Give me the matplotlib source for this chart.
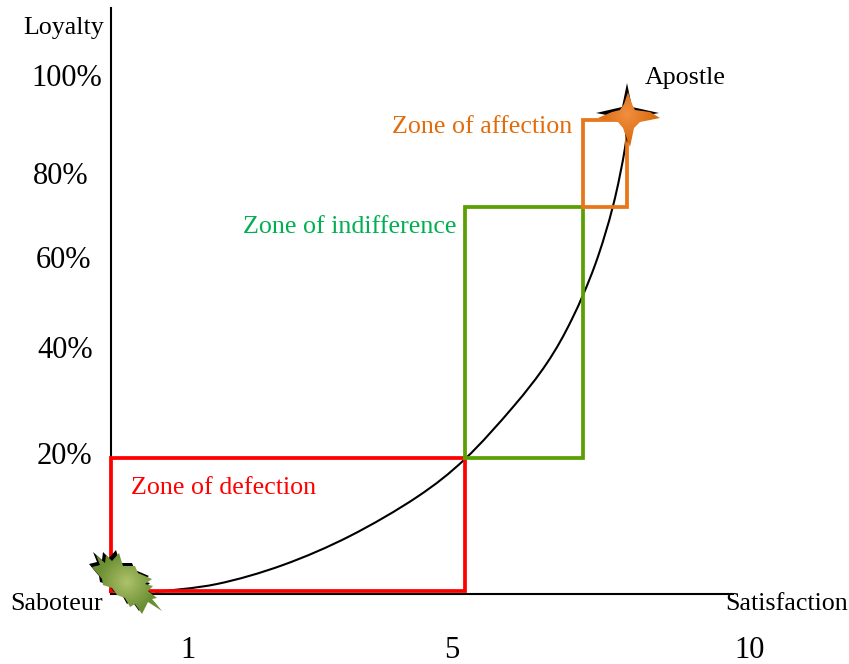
import matplotlib
matplotlib.use("Agg")
import matplotlib.pyplot as plt
import numpy as np
from matplotlib.patches import PathPatch, Polygon
from matplotlib.path import Path

plt.rcParams['font.family'] = ['Liberation Serif', 'DejaVu Serif']

# everything, in image pixels
curve_x = [155, 217, 283, 350, 417, 465, 513, 547, 572, 595, 613, 625, 628]
curve_y = [592, 584, 565, 536, 497, 459, 407, 363, 319, 265, 206, 148, 115]

red_zone_x = [111, 111, 465, 465, 111]
red_zone_y = [591, 458, 458, 591, 591]
green_zone_x = [465, 465, 583, 583, 465]
green_zone_y = [458, 207, 207, 458, 458]
orange_zone_x = [583, 583, 627, 627, 583]
orange_zone_y = [207, 120, 120, 207, 207]

loyalty_labels = ["100%", "80%", "60%", "40%", "20%"]
loyalty_x = [31, 33, 36, 37, 37]
loyalty_y = [78, 176, 260, 350, 457]
satisfaction_labels = ["1", "5", "10"]
satisfaction_x = [188, 452, 750]

zone_labels = ["Zone of affection", "Zone of indifference", "Zone of defection"]
zone_label_x = [392, 243, 131]
zone_label_y = [127, 227, 488]
zone_label_colors = ["#e36c0a", "#00b050", "#ff0000"]

saboteur_x = [96, 105, 106, 112, 119, 123, 135, 138, 152, 145, 153, 148, 157, 152, 162, 148, 142, 135, 130, 125, 117, 112, 103, 102, 92, 100]
saboteur_y = [555, 563, 555, 561, 553, 566, 566, 573, 579, 584, 586, 591, 598, 599, 611, 602, 614, 604, 607, 598, 595, 588, 585, 579, 567, 565]

apostle_x = [628, 632, 635, 650, 660, 640, 634, 630, 623, 618, 598, 612, 620, 624]
apostle_y = [92, 104, 110, 112, 118, 122, 128, 147, 128, 122, 118, 112, 110, 104]
apostle_shadow_x = [627, 632, 659, 632, 627, 622, 596, 622]
apostle_shadow_y = [83, 107, 113, 118, 143, 118, 113, 107]


def smooth_path(xs, ys):
    # bezier through the read points (catmull-rom tangents)
    pts = np.column_stack([xs, ys]).astype(float)
    verts = [pts[0]]
    codes = [Path.MOVETO]
    for i in range(len(pts) - 1):
        before = pts[max(i - 1, 0)]
        after = pts[min(i + 2, len(pts) - 1)]
        verts += [pts[i] + (pts[i + 1] - before) / 6, pts[i + 1] - (after - pts[i]) / 6, pts[i + 1]]
        codes += [Path.CURVE4] * 3
    return Path(verts, codes)


def gradient_shape(ax, xs, ys, inner, outer, center):
    # polygon filled with a radial colour fade
    pts = np.column_stack([xs, ys])
    x0, x1, y0, y1 = min(xs), max(xs), min(ys), max(ys)
    gx, gy = np.meshgrid(np.linspace(x0, x1, 60), np.linspace(y0, y1, 60))
    r = np.hypot(gx - center[0], gy - center[1])
    r = np.clip(r / r.max() * 1.6, 0, 1)[..., None]
    img = np.array(inner) * (1 - r) + np.array(outer) * r
    im = ax.imshow(img, extent=[x0, x1, y1, y0], aspect='auto', zorder=5, interpolation='bilinear')
    patch = PathPatch(Path(np.vstack([pts, pts[0]]), closed=True), transform=ax.transData,
                      facecolor='none', edgecolor='none')
    ax.add_patch(patch)
    im.set_clip_path(patch)


fig = plt.figure(figsize=(8.49, 6.64), dpi=100)
ax = fig.add_axes([0, 0, 1, 1])

ax.plot([111, 111], [8, 593], color='black', lw=1.5)
ax.plot([111, 733], [593.5, 593.5], color='black', lw=1.5)

ax.plot(red_zone_x, red_zone_y, color='#ff0000', lw=2.7, solid_joinstyle='miter')
ax.plot(green_zone_x, green_zone_y, color='#5aa002', lw=2.7, solid_joinstyle='miter')
ax.plot(orange_zone_x, orange_zone_y, color='#e8761a', lw=2.7, solid_joinstyle='miter')
ax.add_patch(PathPatch(smooth_path(curve_x, curve_y), facecolor='none', edgecolor='black', lw=1.5))

for label, x, y in zip(loyalty_labels, loyalty_x, loyalty_y):
    ax.text(x, y, label, fontsize=22, ha='left', va='center')
for label, x in zip(satisfaction_labels, satisfaction_x):
    ax.text(x, 650, label, fontsize=22, ha='center', va='center')

for label, x, y, c in zip(zone_labels, zone_label_x, zone_label_y, zone_label_colors):
    ax.text(x, y, label, fontsize=18.7, color=c, ha='left', va='center')

ax.text(23, 28, "Loyalty", fontsize=18.7, ha='left', va='center')
ax.text(10, 604, "Saboteur", fontsize=18.7, ha='left', va='center')
ax.text(725, 604, "Satisfaction", fontsize=18.7, ha='left', va='center')
ax.text(645, 78, "Apostle", fontsize=18.7, ha='left', va='center')

# saboteur blob, black shadow behind a green fill
ax.add_patch(Polygon(np.column_stack([saboteur_x, saboteur_y]) - [3, 3], closed=True,
                     facecolor='black', edgecolor='none', zorder=4))
gradient_shape(ax, saboteur_x, saboteur_y, (0.68, 0.76, 0.42), (0.42, 0.56, 0.2), (127, 582))

# apostle star
ax.add_patch(Polygon(np.column_stack([apostle_shadow_x, apostle_shadow_y]), closed=True,
                     facecolor='black', edgecolor='none', zorder=4))
gradient_shape(ax, apostle_x, apostle_y, (0.95, 0.56, 0.25), (0.85, 0.42, 0.06), (627, 114))

ax.set_xlim(0, 849)
ax.set_ylim(664, 0)
ax.axis('off')

fig.savefig("out.png", dpi=100)
plt.close(fig)
